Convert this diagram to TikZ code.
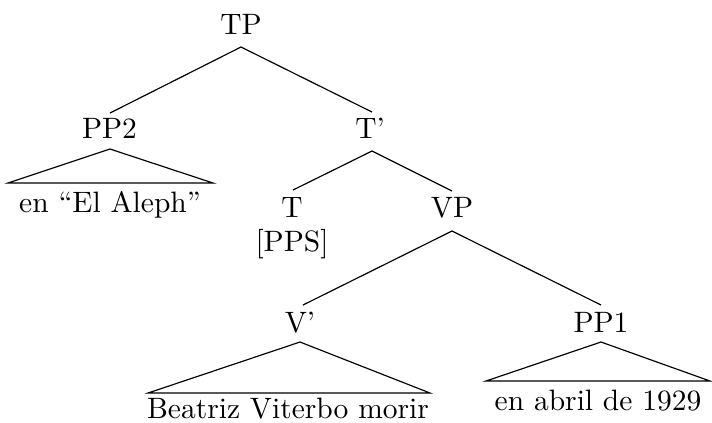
\documentclass[tikz,border=0pt]{standalone}
\begin{document}
\begin{tikzpicture}[x=0.339pt,y=-0.339pt,
  lbl/.style={anchor=base,inner sep=0pt,font=\fontsize{10}{12}\selectfont},
  edge/.style={line width=0.4pt}]
\useasboundingbox (0,0) rectangle (712,422);
% labels
\node[lbl] (TP) at (241,34) {TP};
\node[lbl] (PP2) at (109.5,138) {PP2};
\node[lbl] (Tbar) at (370,138) {T’};
\node[lbl] (aleph) at (110,212) {en “El Aleph”};
\node[lbl] (T) at (292,217) {T};
\node[lbl] (PPS) at (292,251) {[PPS]};
\node[lbl] (VP) at (452,217) {VP};
\node[lbl] (Vbar) at (300,332) {V’};
\node[lbl] (PP1) at (601,332) {PP1};
\node[lbl] (beatriz) at (288,418) {Beatriz Viterbo morir};
\node[lbl] (abril) at (598,410) {en abril de 1929};
% attachment points
\coordinate (TPb) at (241,47);
\coordinate (PP2t) at (110,113);
\coordinate (Tbart) at (372,112);
\coordinate (Tbarb) at (372,151);
\coordinate (Tt) at (293,190);
\coordinate (VPt) at (452,191);
\coordinate (VPb) at (452,231);
\coordinate (Vbart) at (303,305);
\coordinate (PP1t) at (601,305);
% roof corners
\coordinate (PP2b) at (110,149);
\coordinate (r1l) at (8,183);
\coordinate (r1r) at (213,183);
\coordinate (Vbarb) at (300,342);
\coordinate (r2l) at (148,393);
\coordinate (r2r) at (430,393);
\coordinate (PP1b) at (601,342);
\coordinate (r3l) at (486,381);
\coordinate (r3r) at (710,381);
% branches
\draw[edge] (PP2t) -- (TPb) -- (Tbart);
\draw[edge] (Tt) -- (Tbarb) -- (VPt);
\draw[edge] (Vbart) -- (VPb) -- (PP1t);
% roofs
\draw[edge] (r1l) -- (PP2b) -- (r1r) -- cycle;
\draw[edge] (r2l) -- (Vbarb) -- (r2r) -- cycle;
\draw[edge] (r3l) -- (PP1b) -- (r3r) -- cycle;
\end{tikzpicture}
\end{document}
